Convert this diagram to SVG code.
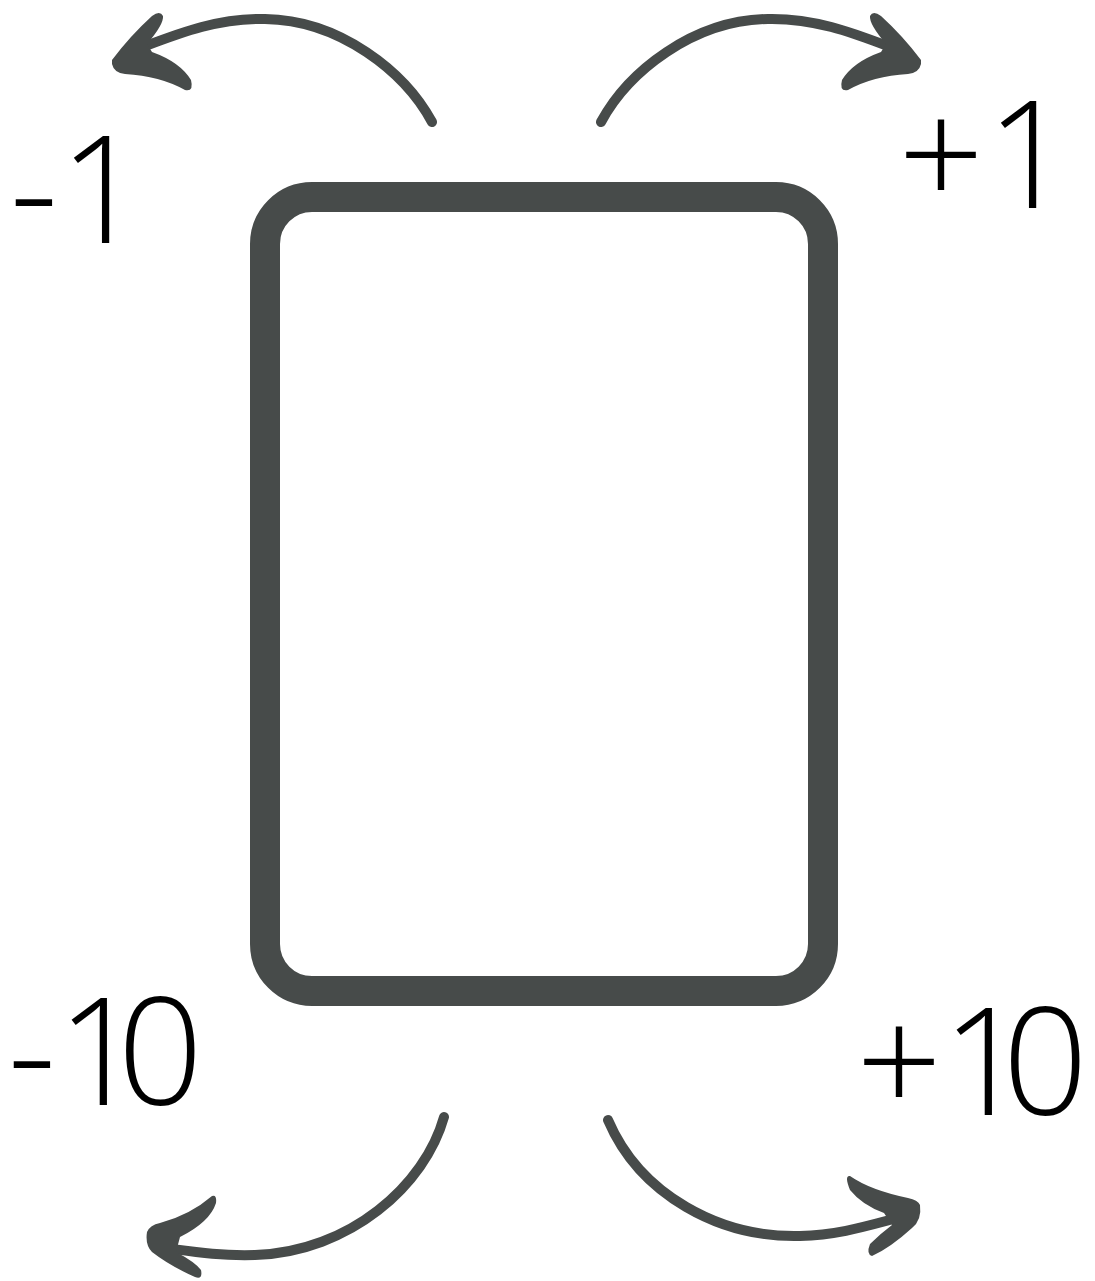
<svg xmlns="http://www.w3.org/2000/svg" width="1095" height="1281" viewBox="0 0 1095 1281">
<style>
.shaft{fill:none;stroke:#474b4a;stroke-width:10;stroke-linecap:round}
.head{fill:#474b4a}
.lbl{font-family:"Open Sans","Roboto","Liberation Sans",sans-serif;font-weight:300;font-size:150px;fill:#000;text-anchor:middle}
.pair{text-anchor:start;letter-spacing:-25px}
</style>
<rect width="1095" height="1281" fill="#fff"/>
<g id="card">
<rect x="265" y="197" width="558" height="794" rx="47" ry="47" fill="#fff" stroke="#474b4a" stroke-width="30"/>
</g>
<g id="connectors">
<g id="arrow-minus1">
<path class="shaft" d="M432,122 C405,72 340,20 265,19 C215,18 175,35 135,50"/>
<path class="head" d="M112,60 Q130,36 152,16 Q160,10 163,16 Q164,24 147,44 L152,52 Q180,62 191,80 Q194,92 185,90 Q160,76 125,74 Q114,73 112,64 Z"/>
</g>
<g id="arrow-plus1" transform="translate(1033,0) scale(-1,1)">
<path class="shaft" d="M432,122 C405,72 340,20 265,19 C215,18 175,35 135,50"/>
<path class="head" d="M112,60 Q130,36 152,16 Q160,10 163,16 Q164,24 147,44 L152,52 Q180,62 191,80 Q194,92 185,90 Q160,76 125,74 Q114,73 112,64 Z"/>
</g>
<g id="arrow-minus10">
<path class="shaft" d="M444,1117 C425,1185 350,1252 255,1255 C220,1256 195,1252 165,1248"/>
<path class="head" d="M147,1232 Q150,1225 160,1223 Q190,1215 212,1196 Q217,1194 216,1203 Q210,1222 180,1237 L176,1252 Q195,1262 201,1270 Q203,1280 195,1277 Q170,1266 152,1252 Q145,1245 147,1232 Z"/>
</g>
<g id="arrow-plus10">
<path class="shaft" d="M608,1120 C640,1195 720,1238 800,1236 C840,1235 870,1225 905,1216"/>
<path class="head" d="M920,1205 Q922,1220 912,1228 Q890,1248 872,1256 Q866,1254 870,1244 Q880,1234 892,1225 L884,1213 Q862,1205 850,1190 Q844,1175 850,1176 Q870,1190 908,1198 Q918,1200 920,1205 Z"/>
</g>
</g>
<g id="label-minus1"><text class="lbl" y="243"><tspan x="34">-</tspan><tspan x="70"> </tspan><tspan x="102">1</tspan></text></g>
<g id="label-plus1"><text class="lbl" y="208"><tspan x="941">+</tspan><tspan x="1000"> </tspan><tspan x="1029">1</tspan></text></g>
<g id="label-minus10"><text class="lbl" y="1105"><tspan x="32">-</tspan><tspan x="70"> </tspan><tspan class="pair" x="57">10</tspan></text></g>
<g id="label-plus10"><text class="lbl" y="1115"><tspan x="899">+</tspan><tspan x="955"> </tspan><tspan class="pair" x="942">10</tspan></text></g>
</svg>
